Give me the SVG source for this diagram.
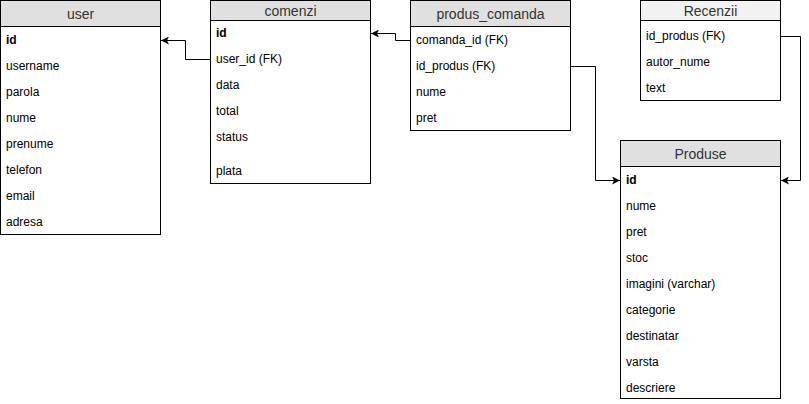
<svg xmlns="http://www.w3.org/2000/svg" width="809" height="404" viewBox="0 0 809 404">
<style>
.box{fill:#ffffff;stroke:#000000;stroke-width:1}
.hd{fill:#e0e0e0;stroke:#000000;stroke-width:1}
.hd2{fill:#f2f2f2;stroke:#000000;stroke-width:1}
.t{font-family:"Liberation Sans",Arial,sans-serif;font-size:14px;fill:#333333;text-anchor:middle}
.r{font-family:"Liberation Sans",Arial,sans-serif;font-size:12px;fill:#000000}
.b{font-weight:bold}
.c{fill:none;stroke:#000000;stroke-width:1}
</style>
<defs>
<marker id="ar" viewBox="0 0 10 10" refX="10" refY="5" markerWidth="8" markerHeight="8" markerUnits="userSpaceOnUse" orient="auto">
<path d="M0,0 L10,5 L0,10 L2.5,5 Z" fill="#000000"/>
</marker>
</defs>
<rect width="809" height="404" fill="#ffffff"/>
<g id="connectors">
<path class="c" d="M210.5,59.5 H185.5 V40.5 H161" marker-end="url(#ar)"/>
<path class="c" d="M410.5,40.5 H395.5 V33.5 H371" marker-end="url(#ar)"/>
<path class="c" d="M570.5,66.5 H595.5 V180.5 H620" marker-end="url(#ar)"/>
<path class="c" d="M780.5,36.5 H800.5 V180.5 H781" marker-end="url(#ar)"/>
</g>
<g id="user">
<rect class="box" x="0.5" y="0.5" width="160" height="234"/>
<rect class="hd" x="0.5" y="0.5" width="160" height="26"/>
<text class="t" x="80.5" y="19">user</text>
<text class="r b" x="6" y="44">id</text>
<text class="r" x="6" y="70">username</text>
<text class="r" x="6" y="96">parola</text>
<text class="r" x="6" y="122">nume</text>
<text class="r" x="6" y="148">prenume</text>
<text class="r" x="6" y="174">telefon</text>
<text class="r" x="6" y="200">email</text>
<text class="r" x="6" y="226">adresa</text>
</g>
<g id="comenzi">
<rect class="box" x="210.5" y="0.5" width="160" height="183"/>
<rect class="hd" x="210.5" y="0.5" width="160" height="20"/>
<text class="t" x="290.5" y="16">comenzi</text>
<text class="r b" x="216" y="37">id</text>
<text class="r" x="216" y="63">user_id (FK)</text>
<text class="r" x="216" y="89">data</text>
<text class="r" x="216" y="115">total</text>
<text class="r" x="216" y="141">status</text>
<text class="r" x="216" y="175">plata</text>
</g>
<g id="produs_comanda">
<rect class="box" x="410.5" y="0.5" width="160" height="130"/>
<rect class="hd" x="410.5" y="0.5" width="160" height="26"/>
<text class="t" x="490.5" y="19">produs_comanda</text>
<text class="r" x="416" y="44">comanda_id (FK)</text>
<text class="r" x="416" y="70">id_produs (FK)</text>
<text class="r" x="416" y="96">nume</text>
<text class="r" x="416" y="122">pret</text>
</g>
<g id="Recenzii">
<rect class="box" x="640.5" y="0.5" width="140" height="100"/>
<rect class="hd2" x="640.5" y="0.5" width="140" height="20"/>
<text class="t" x="710.5" y="16">Recenzii</text>
<text class="r" x="646" y="40">id_produs (FK)</text>
<text class="r" x="646" y="66">autor_nume</text>
<text class="r" x="646" y="92">text</text>
</g>
<g id="Produse">
<rect class="box" x="620.5" y="140.5" width="160" height="258"/>
<rect class="hd" x="620.5" y="140.5" width="160" height="26"/>
<text class="t" x="700.5" y="159">Produse</text>
<text class="r b" x="626" y="184">id</text>
<text class="r" x="626" y="210">nume</text>
<text class="r" x="626" y="236">pret</text>
<text class="r" x="626" y="262">stoc</text>
<text class="r" x="626" y="288">imagini (varchar)</text>
<text class="r" x="626" y="314">categorie</text>
<text class="r" x="626" y="340">destinatar</text>
<text class="r" x="626" y="366">varsta</text>
<text class="r" x="626" y="392">descriere</text>
</g>
</svg>
